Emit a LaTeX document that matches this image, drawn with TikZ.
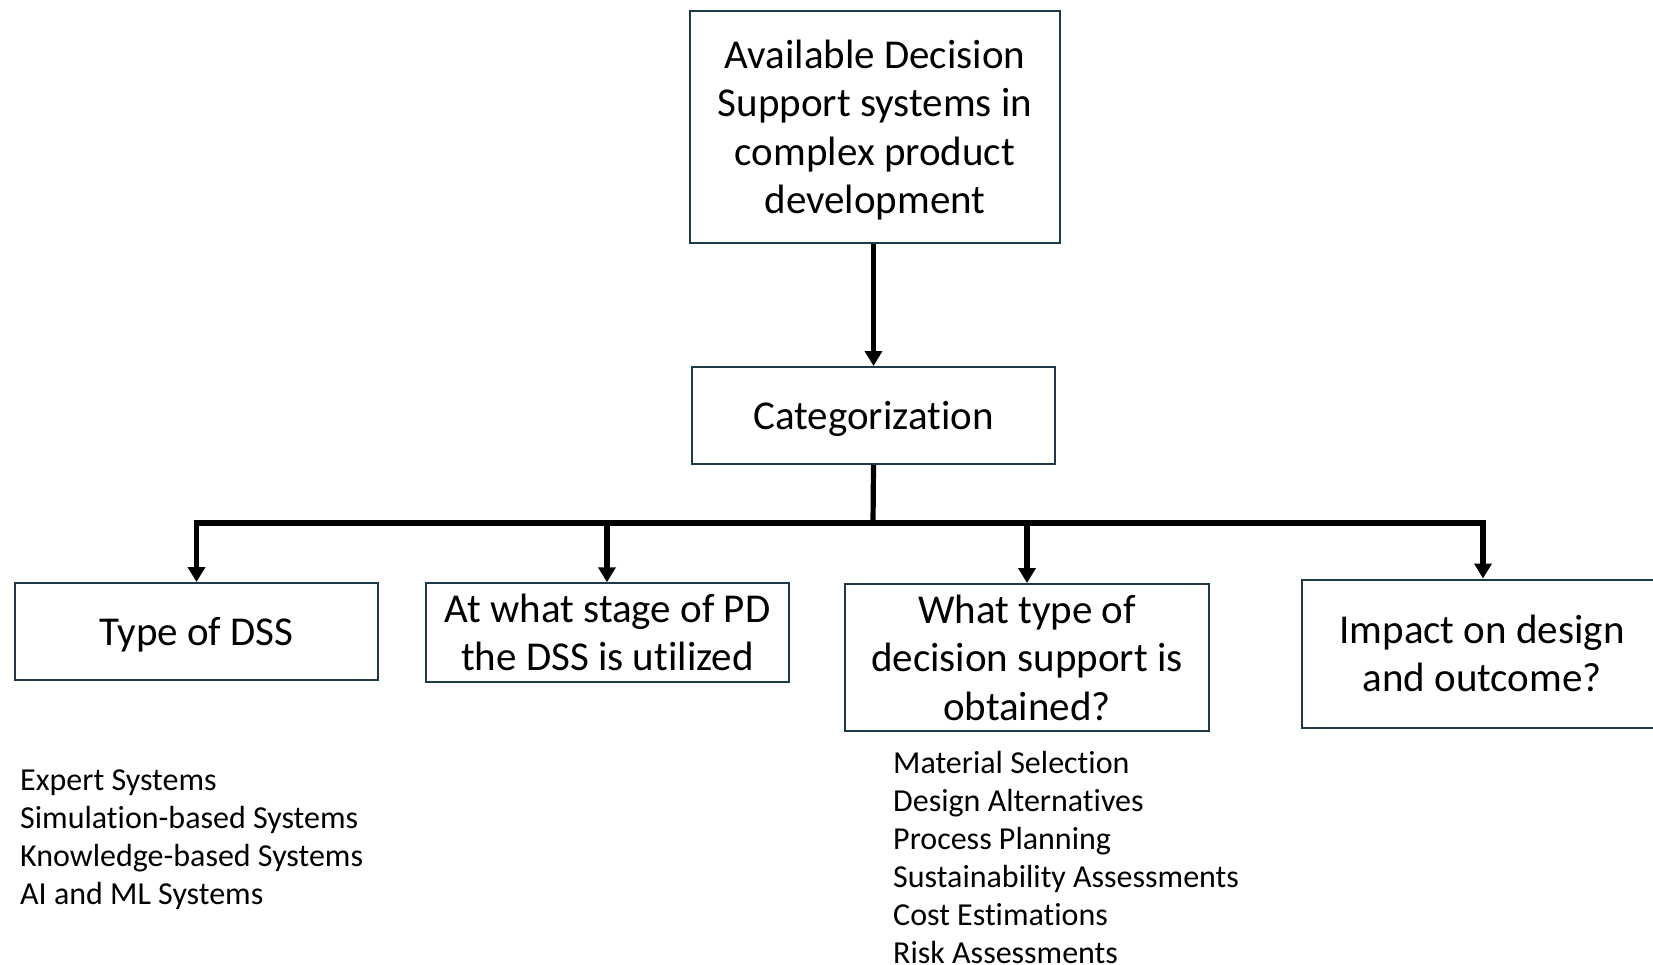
\documentclass[tikz,border=0pt]{standalone}
\usepackage{fontspec}
\setmainfont{Carlito}[Ligatures={NoCommon}]
\usetikzlibrary{arrows.meta}
\definecolor{boxc}{RGB}{28,58,72}
\newcommand\upstrut{\rule{0pt}{39pt}}
\newcommand\dnstrut{\rule[-11pt]{0pt}{11pt}}
\tikzset{
  box/.style={draw=boxc, line width=2pt, align=center, inner sep=0pt,
    font=\fontsize{41}{48.5}\selectfont},
  conn/.style={line width=5.2pt, -{Triangle[width=17pt,length=15pt]}},
  plain/.style={line width=5.2pt},
  listtext/.style={align=left, inner sep=0pt, anchor=west,
    font=\fontsize{32}{38}\selectfont}
}
\begin{document}
\begin{tikzpicture}[x=1pt,y=-1pt]
\useasboundingbox (0,0) rectangle (1653,965);
\node[box, minimum width=370pt, minimum height=232pt] (top) at (875,127)
  {\upstrut Available Decision\\Support systems in\\complex product\\development\dnstrut};
\node[box, minimum width=363pt, minimum height=97pt] (cat) at (873.5,415.5)
  {\upstrut Categorization\dnstrut};
\node[box, minimum width=363pt, minimum height=97pt] (b1) at (196.5,631.5)
  {\upstrut Type of DSS\dnstrut};
\node[box, minimum width=363pt, minimum height=97pt] (b2) at (607.5,632.5)
  {\upstrut At what stage of PD\\the DSS is utilized\dnstrut};
\node[box, minimum width=364pt, minimum height=147pt] (b3) at (1027,657.5)
  {\upstrut What type of\\decision support is\\obtained?\dnstrut};
\node[box, minimum width=360pt, minimum height=148pt] (b4) at (1482,653.5)
  {\upstrut Impact on design\\and outcome?\dnstrut};
\coordinate (j) at (873,523);
\draw[conn] (top.south -| cat.north) -- (cat.north);
\draw[plain] (cat.south) -- (j);
\draw[conn] (j) -| (b1.north);
\draw[conn] (j) -| ([xshift=-0.5pt]b2.north);
\draw[conn] (j) -| (b3.north);
\draw[conn] (j) -| ([xshift=1pt]b4.north);
\node[listtext] (l1) at (20,840)
  {Expert Systems\\Simulation-based Systems\\Knowledge-based Systems\\AI and ML Systems};
\node[listtext] (l2) at (893,857)
  {Material Selection\\Design Alternatives\\Process Planning\\Sustainability Assessments\\Cost Estimations\\Risk Assessments};
\end{tikzpicture}
\end{document}
